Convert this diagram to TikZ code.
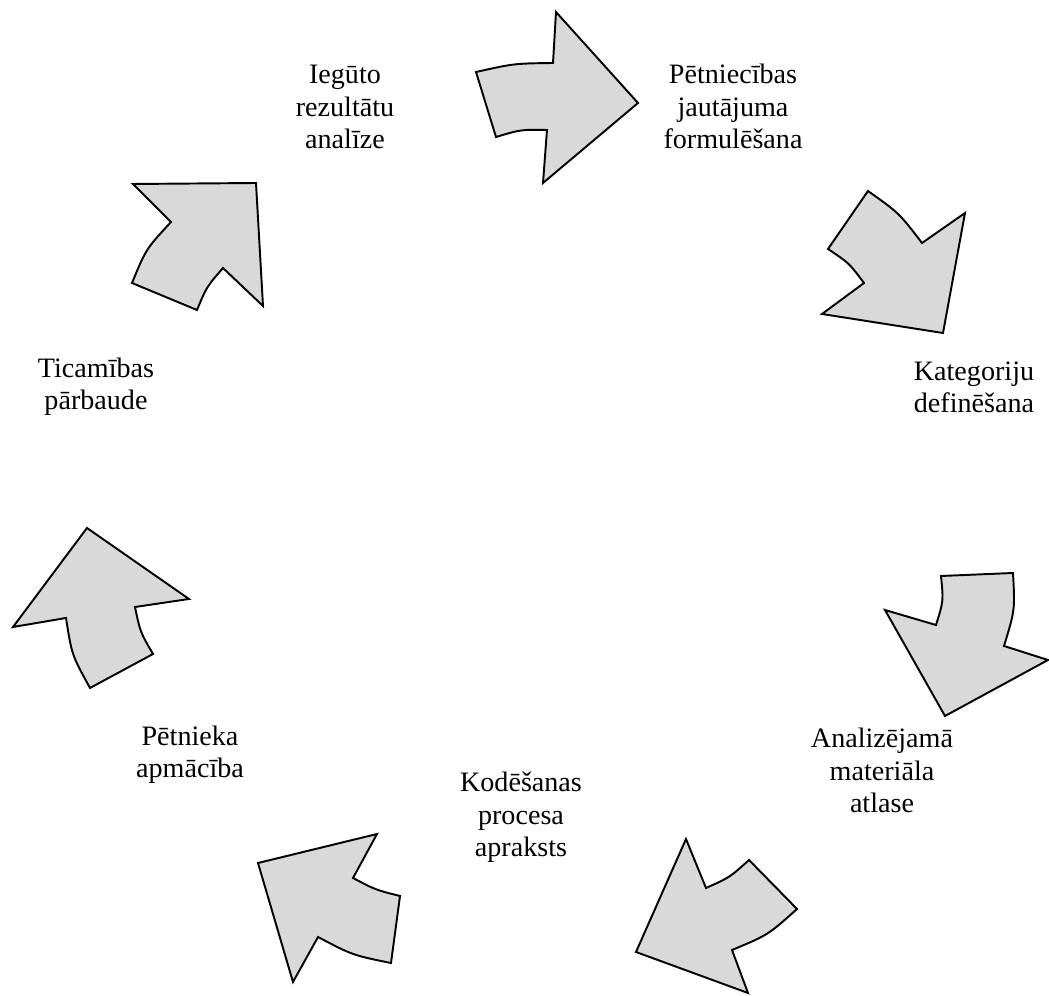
\documentclass[tikz,border=0pt]{standalone}
\usepackage{fontspec}
\setmainfont{Liberation Serif}

\begin{document}
\begin{tikzpicture}[x=0.02cm, y=-0.02cm,
			stage/.style={align=center, anchor=base, font=\fontsize{16}{18.6}\selectfont},
			blockarrow/.style={draw, line width=1.1pt, fill=black!15, line join=miter}
		]
		\useasboundingbox (0,0) rectangle (1049,996);

		% base anchor sits on the last line
		\node[stage] (analize)     at (345,149) {Iegūto\\rezultātu\\analīze};
		\node[stage] (jautajums)   at (733,149) {Pētniecības\\jautājuma\\formulēšana};
		\node[stage] (kategorijas) at (974,413) {Kategoriju\\definēšana};
		\node[stage] (atlase)      at (882,813) {Analizējamā\\materiāla\\atlase};
		\node[stage] (kodesana)    at (521,857) {Kodēšanas\\procesa\\apraksts};
		\node[stage] (apmaciba)    at (190,778) {Pētnieka\\apmācība};
		\node[stage] (ticamiba)    at (96,410)  {Ticamības\\pārbaude};

		% curved block arrows round the cycle
		\draw[blockarrow] (476,72) .. controls (514,63.5) .. (553,63) -- (556,12) -- (638,103) -- (543,183) -- (547,130) .. controls (521,129.5) .. (496,137) -- cycle;
		\draw[blockarrow] (868,191) .. controls (899,213) .. (922,243) -- (965,213) -- (943,333) -- (822,314) -- (864,283) .. controls (849,263) .. (828,249) -- cycle;
		\draw[blockarrow] (936,625) .. controls (943.5,601) .. (941,576) -- (1013,573) .. controls (1015,610) .. (1004,646) -- (1048,660) -- (945,716) -- (885,610) -- cycle;
		\draw[blockarrow] (706,888) .. controls (729.7,877.4) .. (749,860) -- (797,909) .. controls (768,935) .. (732,950) -- (748,993) -- (636,952) -- (686,839) -- cycle;
		\draw[blockarrow] (353,878) .. controls (375.4,889.8) .. (400,896) -- (391,963) .. controls (352.6,955.2) .. (318,937) -- (293,982) -- (258,863) -- (377,834) -- cycle;
		\draw[blockarrow] (135,607) .. controls (140.2,632) .. (153,654) -- (90,688) .. controls (71.8,655) .. (66,618) -- (13,627) -- (87,528) -- (189,599) -- cycle;
		\draw[blockarrow] (223,268) .. controls (206.6,286.9) .. (197,310) -- (132,283) .. controls (146,249) .. (171,222) -- (133,184) -- (256,183) -- (263,306) -- cycle;
\end{tikzpicture}
\end{document}
